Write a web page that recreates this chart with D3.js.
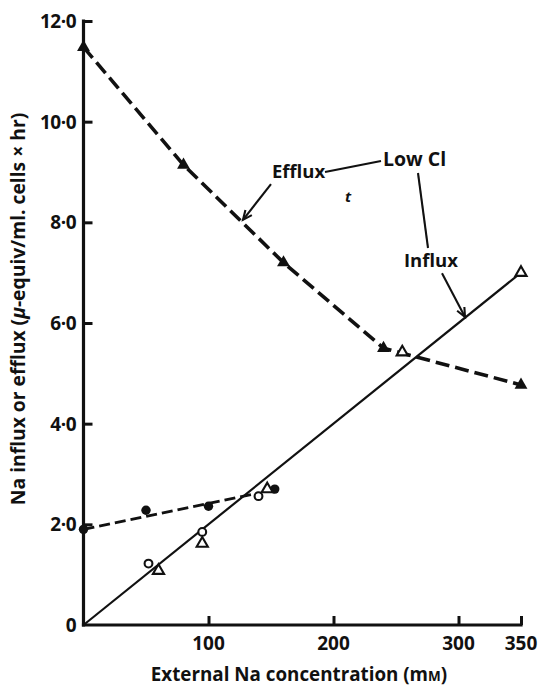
<!DOCTYPE html>
<html>
<head>
<meta charset="utf-8">
<script src="https://cdn.jsdelivr.net/npm/d3@7/dist/d3.min.js"></script>
<style>
  html, body { margin: 0; padding: 0; background: #fff; }
  svg { display: block; }
  text { font-family: "Open Sans", Lato, sans-serif; font-weight: 700; fill: #111; }
</style>
</head>
<body>
<svg id="chart" width="539" height="688"></svg>
<script>
// ---- Data ----
const effluxConc = [0, 80, 160, 240, 350];             // filled triangles, dashed line
const effluxVals = [11.48, 9.14, 7.2, 5.5, 4.77];
const lowClEffluxConc = [255];                         // open triangle on efflux curve
const lowClEffluxVals = [5.42];
const influxFilledConc = [0, 50, 100, 153];            // filled circles
const influxFilledVals = [1.9, 2.28, 2.36, 2.7];
const influxDashFitConc = [0, 140];                    // dashed fit through filled circles
const influxDashFitVals = [1.9, 2.62];
const openCircleConc = [52, 95, 140];                  // open circles
const openCircleVals = [1.22, 1.85, 2.56];
const openTriConc = [60, 95, 147, 350];                // open triangles
const openTriVals = [1.08, 1.62, 2.7, 7.0];
const influxFitConc = [0, 350];                        // solid influx line
const influxFitVals = [0, 7.0];

const xTicks = [100, 200, 300, 350];
const xTickLabels = ["100", "200", "300", "350"];
const yTicks = [0, 2, 4, 6, 8, 10, 12];
const yTickLabels = ["0", "2·0", "4·0", "6·0", "8·0", "10·0", "12·0"];

// annotations in data units [conc, flux]
const effluxLabelPos = [150.8, 8.88];
const lowClLabelPos = [239.6, 9.12];
const influxLabelPos = [256.4, 7.11];
const effluxLowClLink = [[193.2, 9.0], [238, 9.22]];
const effluxArrow = [[150, 8.76], [127.6, 8.05]];
const lowClInfluxLink = [[267.6, 8.98], [275.6, 7.49]];
const influxArrow = [[286.8, 6.99], [305.2, 6.12]];
const strayMarkPos = [209.2, 8.4];

// ---- Scales ----
const x = d3.scaleLinear().domain([0, 350]).range([83.5, 521]);
const y = d3.scaleLinear().domain([0, 12]).range([625, 21]);

const svg = d3.select("#chart");
const zip = (a, b) => a.map((v, i) => [v, b[i]]);
const line = d3.line().x(d => x(d[0])).y(d => y(d[1]));

// ---- Axes ----
const ax = svg.append("g");
ax.append("line").attr("x1", x(0)).attr("x2", x(350)).attr("y1", y(0)).attr("y2", y(0))
  .attr("stroke", "#111").attr("stroke-width", 3.2).attr("stroke-linecap", "square");
ax.append("line").attr("x1", x(0)).attr("x2", x(0)).attr("y1", y(0)).attr("y2", y(12))
  .attr("stroke", "#111").attr("stroke-width", 3.2).attr("stroke-linecap", "square");

const xAxis = d3.axisTop(x).tickValues(xTicks).tickSize(9).tickFormat("");
const xg = svg.append("g").attr("transform", `translate(0,${y(0)})`).call(xAxis);
xg.select(".domain").remove();
xg.selectAll(".tick line").attr("stroke", "#111").attr("stroke-width", 3);

const yAxis = d3.axisRight(y).tickValues(yTicks.filter(v => v > 0)).tickSize(9).tickFormat("");
const yg = svg.append("g").attr("transform", `translate(${x(0)},0)`).call(yAxis);
yg.select(".domain").remove();
yg.selectAll(".tick line").attr("stroke", "#111").attr("stroke-width", 3);

svg.append("g").selectAll("text").data(xTicks).join("text")
  .attr("x", d => x(d)).attr("y", 650).attr("text-anchor", "middle")
  .attr("font-size", 19).text((d, i) => xTickLabels[i]);

svg.append("g").selectAll("text").data(yTicks).join("text")
  .attr("x", 76).attr("y", d => y(d)).attr("dy", "0.36em").attr("text-anchor", "end")
  .attr("font-size", 19).attr("letter-spacing", -0.5).text((d, i) => yTickLabels[i]);

// axis titles
const xt = svg.append("text").attr("x", 299).attr("y", 681).attr("text-anchor", "middle").attr("font-size", 18.8);
xt.append("tspan").text("External Na concentration (m");
xt.append("tspan").attr("font-size", 13.5).text("M");
xt.append("tspan").text(")");

const yt = svg.append("text").attr("transform", "translate(25,309) rotate(-90)")
  .attr("text-anchor", "middle").attr("font-size", 19.3);
yt.append("tspan").text("Na influx or efflux (");
yt.append("tspan").attr("font-style", "italic").text("μ");
yt.append("tspan").text("-equiv/ml. cells × hr)");

// ---- Lines ----
svg.append("path").datum(zip(influxFitConc, influxFitVals)).attr("d", line)
  .attr("fill", "none").attr("stroke", "#111").attr("stroke-width", 2.2);
svg.append("path").datum(zip(effluxConc, effluxVals)).attr("d", line)
  .attr("fill", "none").attr("stroke", "#111").attr("stroke-width", 3.6).attr("stroke-dasharray", "14,6");
svg.append("path").datum(zip(influxDashFitConc, influxDashFitVals)).attr("d", line)
  .attr("fill", "none").attr("stroke", "#111").attr("stroke-width", 2.9).attr("stroke-dasharray", "11,5");

// ---- Markers ----
const tri = d3.symbol(d3.symbolTriangle, 72)();
const triOpen = d3.symbol(d3.symbolTriangle, 54)();
svg.append("g").selectAll("path").data(zip(effluxConc, effluxVals)).join("path")
  .attr("d", tri).attr("transform", d => `translate(${x(d[0])},${y(d[1])})`).attr("fill", "#111");
svg.append("g").selectAll("circle").data(zip(influxFilledConc, influxFilledVals)).join("circle")
  .attr("cx", d => x(d[0])).attr("cy", d => y(d[1])).attr("r", 4.7).attr("fill", "#111");
svg.append("g").selectAll("circle").data(zip(openCircleConc, openCircleVals)).join("circle")
  .attr("cx", d => x(d[0])).attr("cy", d => y(d[1])).attr("r", 3.9)
  .attr("fill", "#fff").attr("stroke", "#111").attr("stroke-width", 2.1);
svg.append("g").selectAll("path").data(zip(openTriConc, openTriVals).concat(zip(lowClEffluxConc, lowClEffluxVals))).join("path")
  .attr("d", triOpen).attr("transform", d => `translate(${x(d[0])},${y(d[1])})`)
  .attr("fill", "#fff").attr("stroke", "#111").attr("stroke-width", 2.1);

// ---- Annotations ----
function seg(pts, w) {
  svg.append("line").attr("x1", x(pts[0][0])).attr("y1", y(pts[0][1]))
    .attr("x2", x(pts[1][0])).attr("y2", y(pts[1][1]))
    .attr("stroke", "#111").attr("stroke-width", w || 2);
}
function arrow(pts) {
  seg(pts, 2.1);
  const x1 = x(pts[0][0]), y1 = y(pts[0][1]), x2 = x(pts[1][0]), y2 = y(pts[1][1]);
  const a = Math.atan2(y2 - y1, x2 - x1), L = 10, s = 0.42;
  const p = [[x2 - L * Math.cos(a - s), y2 - L * Math.sin(a - s)], [x2, y2], [x2 - L * Math.cos(a + s), y2 - L * Math.sin(a + s)]];
  svg.append("path").attr("d", d3.line()(p)).attr("fill", "none").attr("stroke", "#111").attr("stroke-width", 2.1);
}
seg(effluxLowClLink, 2.1);
seg(lowClInfluxLink, 2.1);
arrow(effluxArrow);
arrow(influxArrow);

svg.append("text").attr("x", x(effluxLabelPos[0])).attr("y", y(effluxLabelPos[1])).attr("font-size", 18.5).text("Efflux");
svg.append("text").attr("x", x(lowClLabelPos[0])).attr("y", y(lowClLabelPos[1])).attr("font-size", 19.5).text("Low Cl");
svg.append("text").attr("x", x(influxLabelPos[0])).attr("y", y(influxLabelPos[1])).attr("font-size", 18.5).text("Influx");
svg.append("text").attr("x", x(strayMarkPos[0])).attr("y", y(strayMarkPos[1])).attr("font-size", 15)
  .attr("font-style", "italic").text("t");
</script>
</body>
</html>
